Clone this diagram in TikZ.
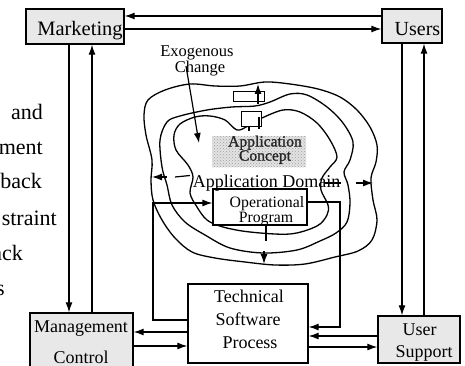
\documentclass[tikz,border=0pt]{standalone}
\usepackage{fontspec}
\setmainfont{Liberation Serif}
\usetikzlibrary{arrows.meta,patterns}
\newcommand\fsz[1]{\fontsize{#1}{#1}\selectfont}
\begin{document}
\begin{tikzpicture}[x=1pt,y=-1pt,
  gbox/.style={draw, line width=1.3pt, fill=gray!18, inner sep=0pt},
  wbox/.style={draw, line width=1.2pt, fill=white, inner sep=0pt},
  ln/.style={line width=1.2pt},
  arr/.style={line width=1.2pt, -{Latex[length=10pt,width=7pt]}},
  blob/.style={line width=1.3pt},
  lbl/.style={anchor=base, inner sep=0pt},
  side/.style={anchor=base east, inner sep=0pt, font=\fsz{22}}]
\useasboundingbox (0,0) rectangle (465,366);
\clip (0,0) rectangle (465,366);

% cut-off side captions
\node[side] (s1) at (43,120) {and};
\node[side] (s2) at (43,154) {ment};
\node[side] (s3) at (42,188) {back};
\node[side] (s4) at (57,225) {straint};
\node[side] (s5) at (23,260) {ack};
\node[side] (s6) at (5,295) {s};

% nested domain contours
\draw[blob] plot[smooth cycle, tension=0.55] coordinates {
  (148,100) (165,90) (190,84) (215,86) (240,86) (265,82) (290,84) (318,89)
  (340,97) (357,110) (370,127) (377,145) (376,162) (371,178) (373,200)
  (377,220) (372,240) (358,251) (335,257) (305,264) (275,265) (245,262)
  (215,258) (192,252) (175,238) (162,220) (153,200) (151,180) (152,160)
  (146,135) (144,115)};
\draw[blob] plot[smooth cycle, tension=0.55] coordinates {
  (160,140) (167,122) (180,116) (207,110) (232,107) (255,106) (270,102)
  (290,94) (307,95) (327,107) (343,123) (353,142) (350,160) (344,172)
  (348,185) (350,203) (347,222) (336,233) (320,241) (297,250) (263,253)
  (230,248) (205,235) (185,222) (172,205) (167,185) (162,167)};
\draw[blob] plot[smooth cycle, tension=0.55] coordinates {
  (262,118) (283,110) (300,112) (317,123) (330,140) (337,157) (330,167)
  (322,178) (321,190) (328,205) (327,215) (317,226) (290,234) (250,232)
  (223,227) (207,220) (197,207) (190,193) (193,177) (188,165) (176,150)
  (174,135) (180,124) (195,117) (210,116) (225,120) (237,130) (248,126)};

% boxes
\node[gbox, minimum width=98pt, minimum height=35pt] (mkt) at (75,26.5) {};
\node[gbox, minimum width=60pt, minimum height=34pt] (usr) at (412,26) {};
\node[gbox, minimum width=103pt, minimum height=62pt] (mgmt) at (81.5,344) {};
\node[wbox, minimum width=120pt, minimum height=79pt] (tech) at (248,323.5) {};
\node[gbox, minimum width=82pt, minimum height=47pt] (us) at (419,339.5) {};
\node[wbox, minimum width=94pt, minimum height=36pt] (op) at (260,207) {};
\node[inner sep=0pt, minimum width=94pt, minimum height=31pt, fill=gray!22,
      postaction={pattern=crosshatch dots, pattern color=gray!75}] (ac) at (259,151.5) {};
\node[wbox, line width=1pt, minimum width=31pt, minimum height=10pt] (r1) at (248.5,97) {};
\node[wbox, line width=1pt, minimum width=20pt, minimum height=15pt] (r2) at (251,119.5) {};

% box labels
\node[lbl, font=\fsz{20.5}] (tmkt) at (80,36) {Marketing};
\node[lbl, font=\fsz{20}] (tusr) at (417.5,36) {Users};
\node[lbl, font=\fsz{18}] (tmg1) at (81,332) {Management};
\node[lbl, font=\fsz{18}] (tmg2) at (81,363) {Control};
\node[lbl, font=\fsz{18}] (tte1) at (249,302) {Technical};
\node[lbl, font=\fsz{18}] (tte2) at (248,325) {Software};
\node[lbl, font=\fsz{18}] (tte3) at (250,348) {Process};
\node[lbl, font=\fsz{18}] (tus1) at (419.5,335) {User};
\node[lbl, font=\fsz{18}] (tus2) at (424,357) {Support};
\node[lbl, font=\fsz{15.8}] (top1) at (267,207) {Operational};
\node[lbl, font=\fsz{15.8}] (top2) at (266,222) {Program};
\node[anchor=north, inner sep=0pt, align=center, text=black!85,
      font=\fsz{15.6}\addfontfeature{FakeBold=1.2}] (tac) at (265,135.5)
      {Application\\[-1.5pt]Concept};
\node[lbl, font=\fsz{18}] (tdom) at (266.5,187) {Application Domain};
\node[lbl, font=\fsz{16.5}] (texo1) at (197,57) {Exogenous};
\node[lbl, font=\fsz{16.5}] (texo2) at (200,73) {Change};

% helper levels
\coordinate (h16) at (0,16);
\coordinate (h29) at (0,29);
\coordinate (h332) at (0,332);
\coordinate (h346) at (0,346);
\coordinate (h336) at (0,336);
\coordinate (h347) at (0,347);
\coordinate (v69) at (69,0);
\coordinate (v92) at (92,0);
\coordinate (v402) at (402,0);
\coordinate (v424) at (424,0);

% flows between the outer boxes
\draw[arr] (usr.west |- h16) -- (mkt.east |- h16);
\draw[arr] (mkt.east |- h29) -- (usr.west |- h29);
\draw[arr] (mkt.south -| v69) -- (mgmt.north -| v69);
\draw[arr] (mgmt.north -| v92) -- (mkt.south -| v92);
\draw[arr] (usr.south -| v402) -- (us.north -| v402);
\draw[arr] (us.north -| v424) -- (usr.south -| v424);
\draw[arr] (tech.west |- h332) -- (mgmt.east |- h332);
\draw[arr] (mgmt.east |- h346) -- (tech.west |- h346);
\draw[arr] (us.west |- h336) -- (tech.east |- h336);
\draw[arr] (tech.east |- h347) -- (us.west |- h347);

% program <-> process loop
\coordinate (opR) at (340,202);
\coordinate (opRd) at (340,327);
\draw[arr] (op.east |- opR) -- (opR) -- (opRd) -- (tech.east |- opRd);
\coordinate (lt1) at (153,320);
\coordinate (lt2) at (153,203);
\draw[arr] (tech.west |- lt1) -- (lt1) -- (lt2) -- (op.west |- lt2);

% exogenous change
\coordinate (exoS) at (186,66);
\coordinate (exoE) at (199,143);
\draw[arr] (exoS) -- (exoE);

% arrows crossing the contours
\coordinate (r1a) at (258,104);
\coordinate (r1b) at (258,84);
\draw[arr] (r1a) -- (r1b);
\draw[ln] (259,117) -- (259,129);
\draw[ln] (249,127) -- (249,131);
\draw[ln] (266,226) -- (266,241);
\coordinate (dnA) at (264,251);
\coordinate (dnB) at (264,264);
\draw[arr] (dnA) -- (dnB);
\draw[ln] (190,175.5) -- (175,177);
\coordinate (lfA) at (167,177);
\coordinate (lfB) at (152,177);
\draw[arr] (lfA) -- (lfB);
\draw[ln] (325,183) -- (341,183);
\coordinate (rtA) at (356,183);
\coordinate (rtB) at (373,183);
\draw[arr] (rtA) -- (rtB);
\end{tikzpicture}
\end{document}
